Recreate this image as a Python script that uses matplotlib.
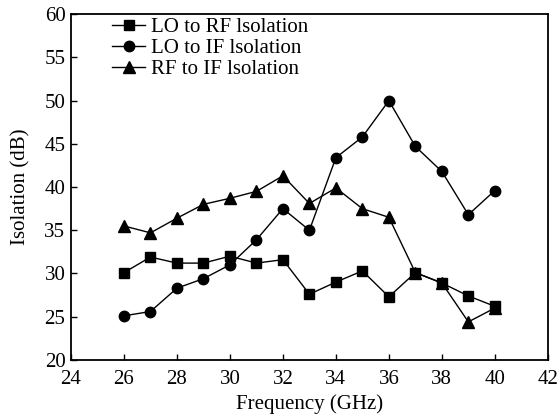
#!/usr/bin/env python3
# -*- coding: utf-8 -*-

import matplotlib
matplotlib.use('Agg')
import matplotlib.pyplot as plt

freq = [26, 27, 28, 29, 30, 31, 32, 33, 34, 35, 36, 37, 38, 39, 40]
lo_rf = [30.1, 31.9, 31.2, 31.2, 32.0, 31.2, 31.6, 27.6, 29.0, 30.3, 27.3, 30.1, 28.9, 27.4, 26.2]
lo_if = [25.1, 25.6, 28.3, 29.4, 31.0, 33.9, 37.5, 35.0, 43.4, 45.8, 50.0, 44.7, 41.8, 36.8, 39.6]
rf_if = [35.5, 34.7, 36.4, 38.0, 38.7, 39.5, 41.3, 38.1, 39.9, 37.5, 36.5, 30.1, 28.9, 24.4, 26.0]
labels = ['LO to RF lsolation', 'LO to IF lsolation', 'RF to IF lsolation']

plt.rcParams['font.family'] = ['Liberation Serif', 'DejaVu Serif']
plt.rcParams['font.size'] = 15

fig = plt.figure(figsize=(5.59, 4.18), dpi=100)
ax = fig.add_axes([0.127, 0.139, 0.853, 0.827])

ax.plot(freq, lo_rf, 'k-s', lw=1, ms=6.5, label=labels[0])
ax.plot(freq, lo_if, 'k-o', lw=1, ms=7.5, label=labels[1])
ax.plot(freq, rf_if, 'k-^', lw=1, ms=8, label=labels[2])

ax.set_xlim(24, 42)
ax.set_ylim(20, 60)
ax.set_xticks(range(24, 43, 2))
ax.set_yticks(range(20, 61, 5))
ax.tick_params(direction='in', length=4, width=1, top=False, right=False,
               labelsize=15)
ax.tick_params(axis='x', pad=7)
ax.tick_params(axis='y', pad=4)
for s in ax.spines.values():
    s.set_linewidth(1.3)

ax.set_xlabel('Frequency (GHz)', fontsize=15, labelpad=4)
ax.set_ylabel('Isolation (dB)', fontsize=15, labelpad=10)

ax.legend(loc='upper left', frameon=False, bbox_to_anchor=(0.047, 1.045),
          handlelength=1.6, handletextpad=0.25, labelspacing=0.08, fontsize=15)

fig.savefig('out.png', dpi=100)
